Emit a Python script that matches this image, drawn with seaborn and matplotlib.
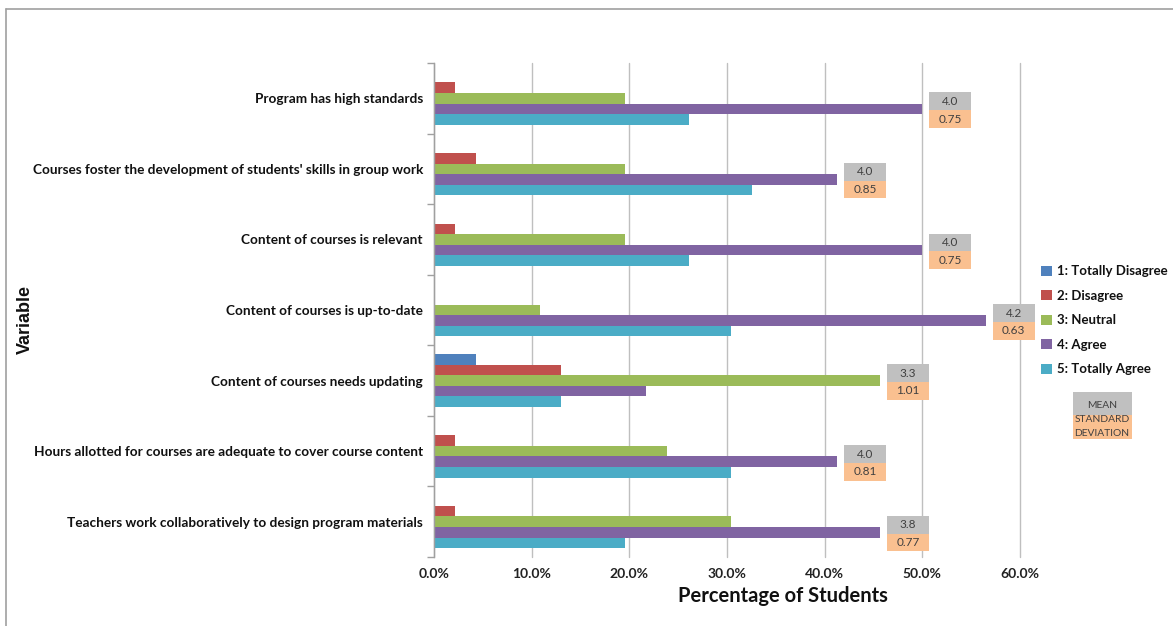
import matplotlib
matplotlib.use("Agg")
import matplotlib.pyplot as plt
from matplotlib.patches import Rectangle
from matplotlib.lines import Line2D
import seaborn as sns
import pandas as pd
import numpy as np

categories = [
    "Program has high standards",
    "Courses foster the development of students' skills in group work",
    "Content of courses is relevant",
    "Content of courses is up-to-date",
    "Content of courses needs updating",
    "Hours allotted for courses are adequate to cover course content",
    "Teachers work collaboratively to design program materials",
]
responses = ["1: Totally Disagree", "2: Disagree", "3: Neutral", "4: Agree", "5: Totally Agree"]
totally_disagree = [0.0, 0.0, 0.0, 0.0, 4.3, 0.0, 0.0]
disagree = [2.2, 4.3, 2.2, 0.0, 13.0, 2.2, 2.2]
neutral = [19.6, 19.6, 19.6, 10.9, 45.7, 23.9, 30.4]
agree = [50.0, 41.3, 50.0, 56.5, 21.7, 41.3, 45.7]
totally_agree = [26.1, 32.6, 26.1, 30.4, 13.0, 30.4, 19.6]
means = ["4.0", "4.0", "4.0", "4.2", "3.3", "4.0", "3.8"]
sds = ["0.75", "0.85", "0.75", "0.63", "1.01", "0.81", "0.77"]
xticks = [0, 10, 20, 30, 40, 50, 60]

colors = ["#4F81BD", "#C0504D", "#9BBB59", "#8064A2", "#4BACC6"]
GRAY = "#C0C0C0"
ORANGE = "#FAC090"

series = [totally_disagree, disagree, neutral, agree, totally_agree]
rows = []
for r, vals in zip(responses, series):
    for c, v in zip(categories, vals):
        rows.append({"Variable": c, "Response": r, "Pct": v})
df = pd.DataFrame(rows)

sns.set_theme(style="white")
plt.rcParams["font.family"] = ["Lato", "DejaVu Sans"]

W, H = 1173, 626
fig = plt.figure(figsize=(W / 100, H / 100), dpi=100)
ax = fig.add_axes([434 / W, 1 - 557 / H, (1020 - 434) / W, (557 - 63) / H])

sns.barplot(data=df, y="Variable", x="Pct", hue="Response", order=categories,
            hue_order=responses, palette=colors, orient="h", width=0.75,
            saturation=1, dodge=True, ax=ax, legend=True,
            edgecolor="none", linewidth=0)

ax.set_xlim(0, 60)
ax.set_ylim(len(categories) - 0.5, -0.5)
ax.set_xticks(xticks)
ax.set_xticklabels([f"{t:.1f}%" for t in xticks], fontsize=10, fontweight="bold", color="#222222")
ax.grid(axis="x", color="#BFBFBF", linewidth=1)
for gl in ax.get_xgridlines():
    gl.set_clip_on(False)
ax.set_axisbelow(True)
for s in ["top", "right", "bottom"]:
    ax.spines[s].set_visible(False)
ax.spines["left"].set_color("#A0A0A0")
ax.spines["left"].set_linewidth(1)

ax.set_yticks(range(len(categories)))
ax.set_yticklabels(categories, fontsize=9.8, fontweight="bold", color="#111111")
ax.tick_params(axis="y", which="major", length=0, pad=8)
ax.set_yticks(np.arange(-0.5, len(categories), 1.0), minor=True)
ax.tick_params(axis="y", which="minor", length=5, color="#A0A0A0", width=1, left=True)
ax.tick_params(axis="x", length=0, pad=8)

ax.set_xlabel("")
ax.set_ylabel("")
fig.text(783 / W, 1 - 596 / H, "Percentage of Students", ha="center", va="center",
         fontsize=14.5, fontweight="bold", color="#111111")
fig.text(25 / W, 1 - 320 / H, "Variable", rotation=90, ha="center", va="center",
         fontsize=13, fontweight="bold", family=["Liberation Sans"], color="#111111")

# mean / SD boxes next to the longest bar of each category
bars = [list(cont) for cont in ax.containers]
for i in range(len(categories)):
    group = [b[i] for b in bars]
    best = max(group, key=lambda p: p.get_width())
    cy = best.get_y() + best.get_height() / 2
    x0 = best.get_width() + 0.7
    w = 4.3
    ax.add_patch(Rectangle((x0, cy - 0.233), w, 0.253, facecolor=GRAY, edgecolor="none", clip_on=False, zorder=5))
    ax.add_patch(Rectangle((x0, cy + 0.02), w, 0.25, facecolor=ORANGE, edgecolor="none", clip_on=False, zorder=5))
    ax.text(x0 + w / 2, cy - 0.106, means[i], ha="center", va="center", fontsize=8.5, color="#404040", zorder=6, clip_on=False)
    ax.text(x0 + w / 2, cy + 0.145, sds[i], ha="center", va="center", fontsize=8.5, color="#404040", zorder=6, clip_on=False)

# legend
handles, labels = ax.get_legend_handles_labels()
ax.legend(handles, labels, loc="upper left", bbox_to_anchor=(1036 / W, 1 - 260 / H),
          bbox_transform=fig.transFigure, frameon=False,
          prop={"weight": "bold", "size": 9.5}, handlelength=0.8, handleheight=0.8,
          handletextpad=0.4, labelspacing=0.95, borderaxespad=0)
for t in ax.get_legend().get_texts():
    t.set_color("#111111")

# legend key for boxes
fig.patches.append(Rectangle((1073 / W, 1 - 415 / H), 59 / W, 23 / H, transform=fig.transFigure,
                             facecolor=GRAY, edgecolor="none", figure=fig))
fig.patches.append(Rectangle((1073 / W, 1 - 439 / H), 59 / W, 24 / H, transform=fig.transFigure,
                             facecolor=ORANGE, edgecolor="none", figure=fig))
fig.text(1102 / W, 1 - 405 / H, "MEAN", ha="center", va="center", fontsize=7.4, color="#404040")
fig.text(1102 / W, 1 - 420 / H, "STANDARD", ha="center", va="center", fontsize=7.4, color="#404040")
fig.text(1102 / W, 1 - 433 / H, "DEVIATION", ha="center", va="center", fontsize=7.4, color="#404040")

# outer frame (top and left edges)
fig.add_artist(Line2D([6 / W, 1.0], [1 - 9 / H, 1 - 9 / H], transform=fig.transFigure, color="#A0A0A0", linewidth=1.2))
fig.add_artist(Line2D([6 / W, 6 / W], [1 - 9 / H, 0], transform=fig.transFigure, color="#A0A0A0", linewidth=1.2))

fig.savefig("out.png", dpi=100, facecolor="white")
